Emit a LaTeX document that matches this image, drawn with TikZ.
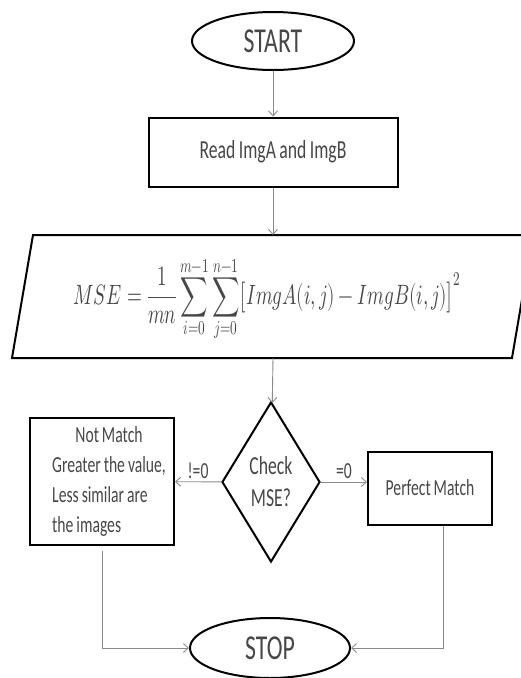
\documentclass[tikz,border=0pt]{standalone}
\usepackage{fontspec}
\usepackage{unicode-math}
\setmainfont{Carlito}[FakeStretch=0.68, WordSpace=0.85]
\usepackage{graphicx}
\usetikzlibrary{shapes.geometric,arrows.meta}

\definecolor{txt}{HTML}{474747}
\definecolor{ln}{HTML}{8A8A8A}

\tikzset{
  term/.style={ellipse, draw, line width=2pt, inner sep=0pt, minimum width=162pt,
    minimum height=58pt, text=txt, font=\fontsize{35}{40}\selectfont},
  proc/.style={rectangle, draw, line width=2pt, text=txt},
  decide/.style={diamond, draw, line width=2pt, aspect=0.61, inner sep=0pt,
    minimum width=98pt, minimum height=160pt, text=txt, align=center,
    font=\fontsize{26}{32}\selectfont},
  flow/.style={draw=ln, line width=0.9pt, -{Straight Barb[length=5pt,width=9pt]}},
  lbl/.style={text=txt, font=\fontsize{23}{28}\selectfont, inner sep=3pt},
}

\begin{document}
\begin{tikzpicture}[x=1pt, y=-1pt]
  \useasboundingbox (0,0) rectangle (520,678);

  \node[term] (start) at (273,41) {START};
  \node[proc, minimum width=249pt, minimum height=69pt,
    font=\fontsize{26}{30}\selectfont] (read) at (273,152) {Read ImgA and ImgB};

  % input box with the formula
  \draw[line width=2pt] (12,358) -- (33,235) -- (533,235) -- (512,358) -- cycle;
  \coordinate (ptop) at (273,235);
  \coordinate (pbot) at (273,358);
  \node[text=txt] (mse) at (267,299) {\scalebox{0.68}[1]{\fontsize{28}{32}\selectfont
    $\displaystyle MSE=\frac{1}{mn}\sum_{i=0}^{m-1}\sum_{j=0}^{n-1}\bigl[ImgA(i,j)-ImgB(i,j)\bigr]^2$}};

  \node[decide] (chk) at (271,482) {Check\\MSE?};

  \node[proc, minimum width=144pt, minimum height=127pt, inner sep=0pt,
    font=\fontsize{23}{30}\selectfont] (nm) at (102,481.5)
    {\begin{tabular}{@{\hspace{14pt}}l@{}}
      \multicolumn{1}{@{\hspace{14pt}}c@{}}{Not Match}\\
      Greater the value,\\Less similar are\\the images
    \end{tabular}};
  \node[proc, minimum width=124pt, minimum height=73pt,
    font=\fontsize{23}{28}\selectfont] (pm) at (430,488) {Perfect Match};

  \node[term, minimum width=160pt, minimum height=60pt] (stop) at (270,648) {STOP};

  \draw[flow] (start) -- (read);
  \draw[flow] (read) -- (ptop);
  \draw[flow] (pbot) -- (chk);
  \draw[flow] (chk) -- node[lbl, above] {!=0} (nm);
  \draw[flow] (chk.east) -- node[lbl, above] {=0} (chk.east -| pm.west);
  \draw[flow] ([yshift=-5pt]nm.south) |- (stop);
  \draw[flow] ([xshift=13pt]pm.south) |- (stop);
\end{tikzpicture}
\end{document}
